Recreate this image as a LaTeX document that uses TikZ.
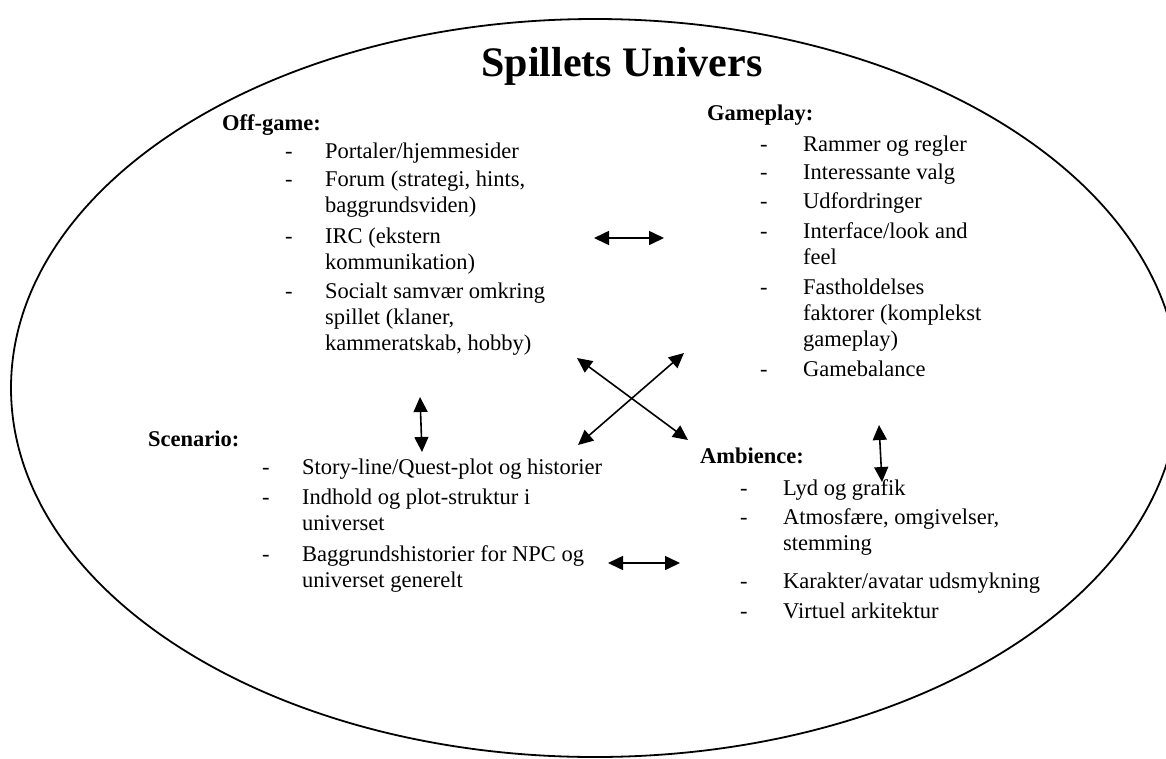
\documentclass[tikz,border=0pt]{standalone}
\usepackage{fontspec}
\setmainfont{Liberation Serif}
\usetikzlibrary{arrows.meta}
\begin{document}
\begin{tikzpicture}[x=1pt,y=-1pt,
  head/.style={anchor=base west,inner sep=0pt,font=\fontsize{22.5}{26}\selectfont\bfseries},
  items/.style={anchor=base west,inner sep=0pt,font=\fontsize{22.5}{26}\selectfont},
  link/.style={line width=1.6pt,{Triangle[length=15pt,width=14pt]}-{Triangle[length=15pt,width=14pt]}}]
\useasboundingbox (0,0) rectangle (1166,758);
% the universe: a large ellipse running past the page edges
\begin{scope}
  \clip (0,0) rectangle (1166,758);
  \draw[line width=1.8pt] (595,388) ellipse [x radius=584, y radius=369];
\end{scope}

\node[anchor=base,inner sep=0pt,font=\fontsize{42}{50}\selectfont\bfseries] (title) at (622,76) {Spillets Univers};

% Off-game
\node[head] (offhead) at (222,130) {Off-game:};
\node[items] (offlist) at (285,158) {\begin{tabular}[t]{@{}p{40pt}@{}l@{}}
- & Portaler/hjemmesider\\[2pt]
- & Forum (strategi, hints,\\
  & baggrundsviden)\\[5pt]
- & IRC (ekstern\\
  & kommunikation)\\[3pt]
- & Socialt samvær omkring\\
  & spillet (klaner,\\
  & kammeratskab, hobby)
\end{tabular}};

% Gameplay
\node[head] (gamehead) at (707,120) {Gameplay:};
\node[items] (gamelist) at (760,151) {\begin{tabular}[t]{@{}p{43pt}@{}l@{}}
- & Rammer og regler\\[2pt]
- & Interessante valg\\[3pt]
- & Udfordringer\\[4pt]
- & Interface/look and\\
  & feel\\[4pt]
- & Fastholdelses\\
  & faktorer (komplekst\\
  & gameplay)\\[4pt]
- & Gamebalance
\end{tabular}};

% Scenario
\node[head] (scenhead) at (148,446) {Scenario:};
\node[items] (scenlist) at (262,474) {\begin{tabular}[t]{@{}p{40pt}@{}l@{}}
- & Story-line/Quest-plot og historier\\[4pt]
- & Indhold og plot-struktur i\\
  & universet\\[5pt]
- & Baggrundshistorier for NPC og\\
  & universet generelt
\end{tabular}};

% Ambience
\node[head] (ambhead) at (700,463) {Ambience:};
\node[items] (amblist) at (740,495) {\begin{tabular}[t]{@{}p{43pt}@{}l@{}}
- & Lyd og grafik\\[3pt]
- & Atmosfære, omgivelser,\\
  & stemming\\[12pt]
- & Karakter/avatar udsmykning\\[4pt]
- & Virtuel arkitektur
\end{tabular}};

% arrow end points between the sections
\coordinate (og-a) at (594,238);
\coordinate (og-b) at (664,238);
\coordinate (os-a) at (420,397);
\coordinate (os-b) at (422,452);
\coordinate (ga-a) at (879,425);
\coordinate (ga-b) at (882,482);
\coordinate (sa-a) at (608,563);
\coordinate (sa-b) at (680,563);
\coordinate (oa-a) at (577,358);
\coordinate (oa-b) at (688,440);
\coordinate (sg-a) at (578,445);
\coordinate (sg-b) at (684,353);

\draw[link] (og-a) -- (og-b);
\draw[link] (os-a) -- (os-b);
\draw[link] (ga-a) -- (ga-b);
\draw[link] (sa-a) -- (sa-b);
\draw[link] (oa-a) -- (oa-b);
\draw[link] (sg-a) -- (sg-b);
\end{tikzpicture}
\end{document}
